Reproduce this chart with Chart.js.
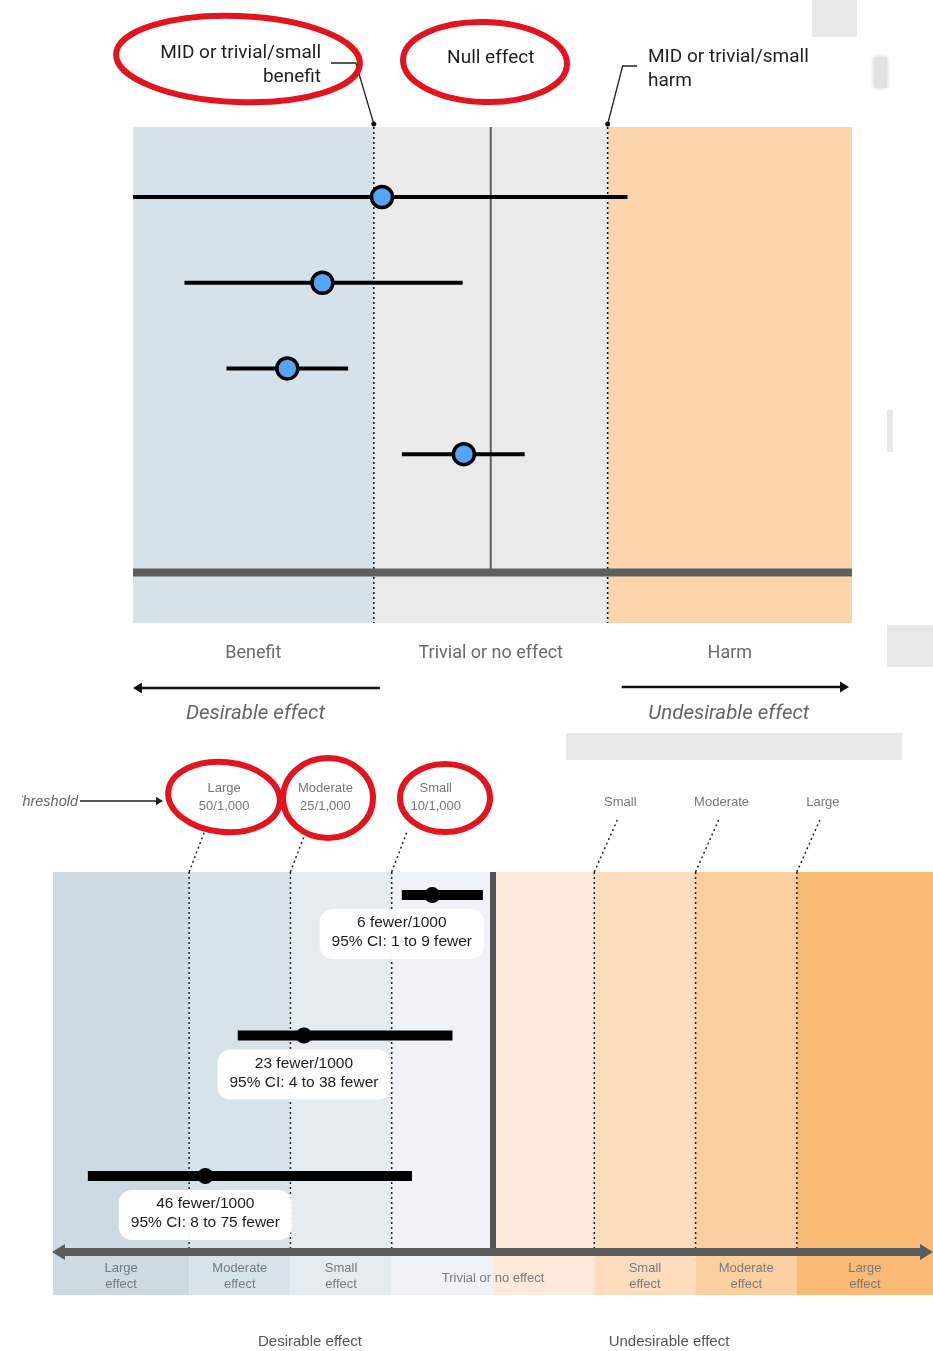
<!DOCTYPE html>
<html>
<head>
<meta charset="utf-8">
<script src="https://cdn.jsdelivr.net/npm/chart.js@4.4.1/dist/chart.umd.min.js"></script>
<style>
  body { margin: 0; background: #fff; width: 933px; height: 1351px; overflow: hidden; position: relative; }
  canvas { position: absolute; left: 0; }
  #topChart { top: 0; }
  #bottomChart { top: 740px; }
  .scrap { position: absolute; background: #e7e8e7; z-index: 2; }
</style>
</head>
<body>
<canvas id="topChart" width="933" height="740"></canvas>
<canvas id="bottomChart" width="933" height="611"></canvas>
<div class="scrap" style="left:812px;top:0;width:45px;height:37px"></div>
<div class="scrap" style="left:874px;top:57px;width:13px;height:31px;background:#e2e2e2;box-shadow:0 0 4px #ccc"></div>
<div class="scrap" style="left:887px;top:410px;width:6px;height:42px"></div>
<div class="scrap" style="left:887px;top:625px;width:46px;height:42px"></div>
<div class="scrap" style="left:566px;top:733px;width:336px;height:27px"></div>
<script>
// ---- top panel: effect in MID units (0 = null, -1 / +1 = MID for benefit / harm)
const topRows = [1, 2, 3, 4];
const topEstimates = [-0.93, -1.44, -1.74, -0.23];
const topLower = [-3.06, -2.62, -2.26, -0.76];
const topUpper = [1.17, -0.24, -1.22, 0.29];
const topThresholds = [-1, 1];
const topRegionLabels = ['Benefit', 'Trivial or no effect', 'Harm'];
const topRegionColors = ['rgb(214,226,234)', 'rgb(234,234,234)', 'rgb(253,213,172)'];

// ---- bottom panel: events per 1000 fewer (positive = fewer, benefit side)
const bottomRows = [1, 2, 3];
const bottomEstimates = [6, 23, 46];
const bottomLower = [1, 4, 8];
const bottomUpper = [9, 38, 75];
const bottomThresholds = [10, 25, 50];
const thresholdNames = ['Small', 'Moderate', 'Large'];
const bandLabels = ['Large effect', 'Moderate effect', 'Small effect', 'Trivial or no effect', 'Small effect', 'Moderate effect', 'Large effect'];
const bottomRegionColors = ['rgb(204,218,228)', 'rgb(215,227,235)', 'rgb(228,235,241)', 'rgb(239,243,247)',
                            'rgb(253,234,216)', 'rgb(253,221,189)', 'rgb(252,207,160)', 'rgb(250,185,117)'];

const red = '#e4141f';

// x scale where each threshold band gets the same width
class ThresholdScale extends Chart.LinearScale {
  static id = 'threshold';
  static defaults = Chart.LinearScale.defaults;
  toUnits(v) {
    const b = [0, ...bottomThresholds];
    const s = Math.sign(v), a = Math.abs(v);
    for (let i = 1; i < b.length; i++) {
      if (a <= b[i]) return s * (i - 1 + (a - b[i - 1]) / (b[i] - b[i - 1]));
    }
    const n = b.length - 1;
    return s * (n + (a - b[n]) / (b[n] - b[n - 1]));
  }
  getPixelForValue(v) {
    const u0 = this.toUnits(this.max), u1 = this.toUnits(this.min);
    return this.left + (u0 - this.toUnits(v)) / (u0 - u1) * this.width;
  }
}
Chart.register(ThresholdScale);

function line(ctx, x1, y1, x2, y2) {
  ctx.beginPath(); ctx.moveTo(x1, y1); ctx.lineTo(x2, y2); ctx.stroke();
}
function ellipse(ctx, cx, cy, rx, ry, rot) {
  ctx.save();
  ctx.strokeStyle = red; ctx.lineWidth = 6; ctx.setLineDash([]);
  ctx.beginPath(); ctx.ellipse(cx, cy, rx, ry, rot, 0, Math.PI * 2); ctx.stroke();
  ctx.restore();
}
function arrow(ctx, x1, x2, y, w, head, color) {
  const d = Math.sign(x2 - x1);
  ctx.strokeStyle = color; ctx.fillStyle = color; ctx.lineWidth = w;
  line(ctx, x1, y, x2 - d * head, y);
  ctx.beginPath();
  ctx.moveTo(x2, y); ctx.lineTo(x2 - d * head, y - head * 0.6); ctx.lineTo(x2 - d * head, y + head * 0.6);
  ctx.closePath(); ctx.fill();
}

const topDecor = {
  id: 'topDecor',
  beforeDatasetsDraw(chart) {
    const { ctx, chartArea: a, scales: { x, y } } = chart;
    const edges = [a.left, x.getPixelForValue(topThresholds[0]), x.getPixelForValue(topThresholds[1]), a.right];
    const x0 = x.getPixelForValue(0);
    const yBase = y.getPixelForValue(5.38);
    ctx.save();
    for (let i = 0; i < 3; i++) {
      ctx.fillStyle = topRegionColors[i];
      ctx.fillRect(edges[i], a.top, edges[i + 1] - edges[i], a.bottom - a.top);
    }
    ctx.strokeStyle = '#5e5e5e'; ctx.lineWidth = 2;
    line(ctx, x0, a.top, x0, yBase);
    ctx.strokeStyle = '#111'; ctx.lineWidth = 1.5; ctx.setLineDash([2, 3]);
    line(ctx, edges[1], a.top, edges[1], a.bottom);
    line(ctx, edges[2], a.top, edges[2], a.bottom);
    ctx.setLineDash([]);
    ctx.strokeStyle = '#5f5f5f'; ctx.lineWidth = 8;
    line(ctx, a.left, yBase, a.right, yBase);
    ctx.restore();
  },
  afterDraw(chart) {
    const { ctx, chartArea: a, scales: { x } } = chart;
    const t1 = x.getPixelForValue(topThresholds[0]), t2 = x.getPixelForValue(topThresholds[1]);
    const x0 = x.getPixelForValue(0);
    ctx.save();
    // leaders to threshold labels
    ctx.strokeStyle = '#222'; ctx.fillStyle = '#111'; ctx.lineWidth = 1.3;
    ctx.beginPath(); ctx.moveTo(t1, a.top - 3); ctx.lineTo(t1 - 18, 63); ctx.lineTo(331, 63); ctx.stroke();
    ctx.beginPath(); ctx.moveTo(t2, a.top - 3); ctx.lineTo(t2 + 15, 66); ctx.lineTo(637, 66); ctx.stroke();
    [t1, t2].forEach(t => { ctx.beginPath(); ctx.arc(t, a.top - 3, 2.5, 0, Math.PI * 2); ctx.fill(); });

    ctx.fillStyle = '#1e1e1e'; ctx.font = '19px Roboto'; ctx.textBaseline = 'middle';
    ctx.textAlign = 'right';
    ctx.fillText('MID or trivial/small', 321, 53);
    ctx.fillText('benefit', 321, 77);
    ctx.textAlign = 'center';
    ctx.fillText('Null effect', x0, 58);
    ctx.textAlign = 'left';
    ctx.fillText('MID or trivial/small', 648, 57);
    ctx.fillText('harm', 648, 81);

    // region labels under the panel
    const centers = [(a.left + t1) / 2, x0, (t2 + a.right) / 2];
    ctx.fillStyle = '#6a6a6a'; ctx.font = '18px Roboto'; ctx.textAlign = 'center';
    topRegionLabels.forEach((l, i) => ctx.fillText(l, centers[i], 653));
    arrow(ctx, t1 + 6, a.left, 688, 2.5, 9, '#111');
    arrow(ctx, t2 + 14, a.right - 3, 687, 2.5, 9, '#111');
    ctx.fillStyle = '#666'; ctx.font = 'italic 20.5px Roboto';
    ctx.fillText('Desirable effect', centers[0] + 2, 714);
    ctx.fillText('Undesirable effect', centers[2] - 1, 714);

    ellipse(ctx, 238, 59, 122, 43, 0.04);
    ellipse(ctx, 485, 62, 82, 40, 0.03);
    ctx.restore();
  }
};

const bottomDecor = {
  id: 'bottomDecor',
  beforeDatasetsDraw(chart) {
    const { ctx, chartArea: a, scales: { x, y } } = chart;
    const cuts = [...bottomThresholds].reverse().concat(0, bottomThresholds.map(v => -v));
    const px = cuts.map(v => x.getPixelForValue(v));
    const edges = [a.left, ...px, a.right];
    const x0 = x.getPixelForValue(0);
    const yAxis = y.getPixelForValue(3.541);
    ctx.save();
    for (let i = 0; i < edges.length - 1; i++) {
      ctx.fillStyle = bottomRegionColors[i];
      ctx.fillRect(edges[i], a.top, edges[i + 1] - edges[i], a.bottom - a.top);
    }
    // dotted threshold lines and slanted leaders to the names above
    ctx.strokeStyle = '#222'; ctx.lineWidth = 1.5; ctx.setLineDash([2, 3]);
    px.forEach((p, i) => {
      if (cuts[i] === 0) return;
      line(ctx, p, a.top, p, yAxis);
      if (cuts[i] > 0) line(ctx, p, a.top, p + 16, a.top - 42);
      else line(ctx, p, a.top, p + 23, a.top - 52);
    });
    ctx.setLineDash([]);
    // null line
    ctx.strokeStyle = '#555'; ctx.lineWidth = 6;
    line(ctx, x0, a.top, x0, yAxis);
    // double headed axis
    ctx.strokeStyle = '#5c5c5c'; ctx.fillStyle = '#5c5c5c'; ctx.lineWidth = 8;
    line(ctx, a.left + 10, yAxis, a.right - 10, yAxis);
    [[a.left - 1, 1], [a.right, -1]].forEach(([tx, d]) => {
      ctx.beginPath(); ctx.moveTo(tx, yAxis); ctx.lineTo(tx + d * 13, yAxis - 8); ctx.lineTo(tx + d * 13, yAxis + 8);
      ctx.closePath(); ctx.fill();
    });
    // band labels
    ctx.fillStyle = '#7a7a7a'; ctx.font = '13px "Liberation Sans"'; ctx.textAlign = 'center'; ctx.textBaseline = 'middle';
    const mids = [];
    for (let i = 0; i < edges.length - 1; i++) mids.push((edges[i] + edges[i + 1]) / 2);
    const bandCenters = [mids[0], mids[1], mids[2], x0, mids[5], mids[6], mids[7]];
    bandLabels.forEach((l, i) => {
      const parts = l.split(' ');
      if (l.startsWith('Trivial')) ctx.fillText(l, bandCenters[i], 538);
      else { ctx.fillText(parts[0], bandCenters[i], 528); ctx.fillText(parts[1], bandCenters[i], 544); }
    });
    // threshold names above the panel
    ctx.fillStyle = '#777';
    bottomThresholds.forEach((v, i) => {
      const pb = x.getPixelForValue(v);
      const cx = pb + (i === 0 ? 44 : 35);
      ctx.fillText(thresholdNames[i], cx, 48);
      ctx.fillText(v + '/1,000', cx, 66);
      ctx.fillText(thresholdNames[i], x.getPixelForValue(-v) + 26, 62);
    });
    // "Threshold" arrow, cropped at the left like the source
    ctx.save();
    ctx.beginPath(); ctx.rect(22, 0, 200, 200); ctx.clip();
    ctx.font = 'italic 14.5px "Liberation Sans"'; ctx.textAlign = 'right'; ctx.fillStyle = '#666';
    ctx.fillText('Threshold', 78, 62);
    ctx.restore();
    arrow(ctx, 80, 163, 61, 1.5, 7, '#222');
    ctx.restore();
  },
  afterDraw(chart) {
    const { ctx, chartArea: a, scales: { x, y } } = chart;
    const x0 = x.getPixelForValue(0);
    ctx.save();
    ctx.font = '15.5px "Liberation Sans"'; ctx.textAlign = 'center'; ctx.textBaseline = 'middle';
    bottomRows.forEach((r, i) => {
      const l1 = bottomEstimates[i] + ' fewer/1000';
      const l2 = '95% CI: ' + bottomLower[i] + ' to ' + bottomUpper[i] + ' fewer';
      const w = Math.max(ctx.measureText(l1).width, ctx.measureText(l2).width) + 24;
      let cx = x.getPixelForValue(bottomEstimates[i]);
      if (cx + w / 2 > x0 - 9) cx = x0 - 9 - w / 2;
      const top = y.getPixelForValue(r) + 14;
      ctx.fillStyle = 'rgba(255,255,255,0.96)';
      ctx.beginPath(); ctx.roundRect(cx - w / 2, top, w, 50, 13); ctx.fill();
      ctx.fillStyle = '#1c1c1c';
      ctx.fillText(l1, cx, top + 14);
      ctx.fillText(l2, cx, top + 33);
    });
    ctx.fillStyle = '#555'; ctx.font = '15px "Liberation Sans"';
    ctx.fillText('Desirable effect', 310, 602);
    ctx.fillText('Undesirable effect', 669, 602);
    ellipse(ctx, 224, 57, 56, 35, 0.1);
    ellipse(ctx, 328, 58, 45, 40, 0);
    ellipse(ctx, 445, 58, 45, 34, 0);
    ctx.restore();
  }
};

const baseOptions = {
  responsive: false,
  animation: false,
  events: [],
  plugins: { legend: { display: false }, tooltip: { enabled: false } }
};

// top panel
const topSets = [{
  data: topRows.map((r, i) => ({ x: topEstimates[i], y: r })),
  pointRadius: 10.5, pointBackgroundColor: 'rgb(84,165,246)', pointBorderColor: '#000', pointBorderWidth: 3.5,
  showLine: false
}];
topRows.forEach((r, i) => topSets.push({
  data: [{ x: topLower[i], y: r }, { x: topUpper[i], y: r }],
  showLine: true, borderColor: '#000', borderWidth: 4, pointRadius: 0, borderCapStyle: 'butt'
}));
new Chart(document.getElementById('topChart'), {
  type: 'scatter',
  data: { datasets: topSets },
  options: {
    ...baseOptions,
    layout: { autoPadding: false, padding: { left: 133, right: 81, top: 127, bottom: 117 } },
    scales: {
      x: { type: 'linear', display: false, min: -3.06, max: 3.09 },
      y: { type: 'linear', display: false, reverse: true, min: 0.183, max: 5.97 }
    }
  },
  plugins: [topDecor]
});

// bottom panel
const bottomSets = [{
  data: bottomRows.map((r, i) => ({ x: bottomEstimates[i], y: r })),
  pointRadius: 8, pointBackgroundColor: '#000', pointBorderWidth: 0, showLine: false
}];
bottomRows.forEach((r, i) => bottomSets.push({
  data: [{ x: bottomLower[i], y: r }, { x: bottomUpper[i], y: r }],
  showLine: true, borderColor: '#000', borderWidth: 10, pointRadius: 0, borderCapStyle: 'butt'
}));
new Chart(document.getElementById('bottomChart'), {
  type: 'scatter',
  data: { datasets: bottomSets },
  options: {
    ...baseOptions,
    layout: { autoPadding: false, padding: { left: 53, right: 0, top: 132, bottom: 56 } },
    scales: {
      x: { type: 'threshold', display: false, min: -83.6, max: 83.6 },
      y: { type: 'linear', display: false, reverse: true, min: 0.836, max: 3.847 }
    }
  },
  plugins: [bottomDecor]
});
</script>
</body>
</html>
